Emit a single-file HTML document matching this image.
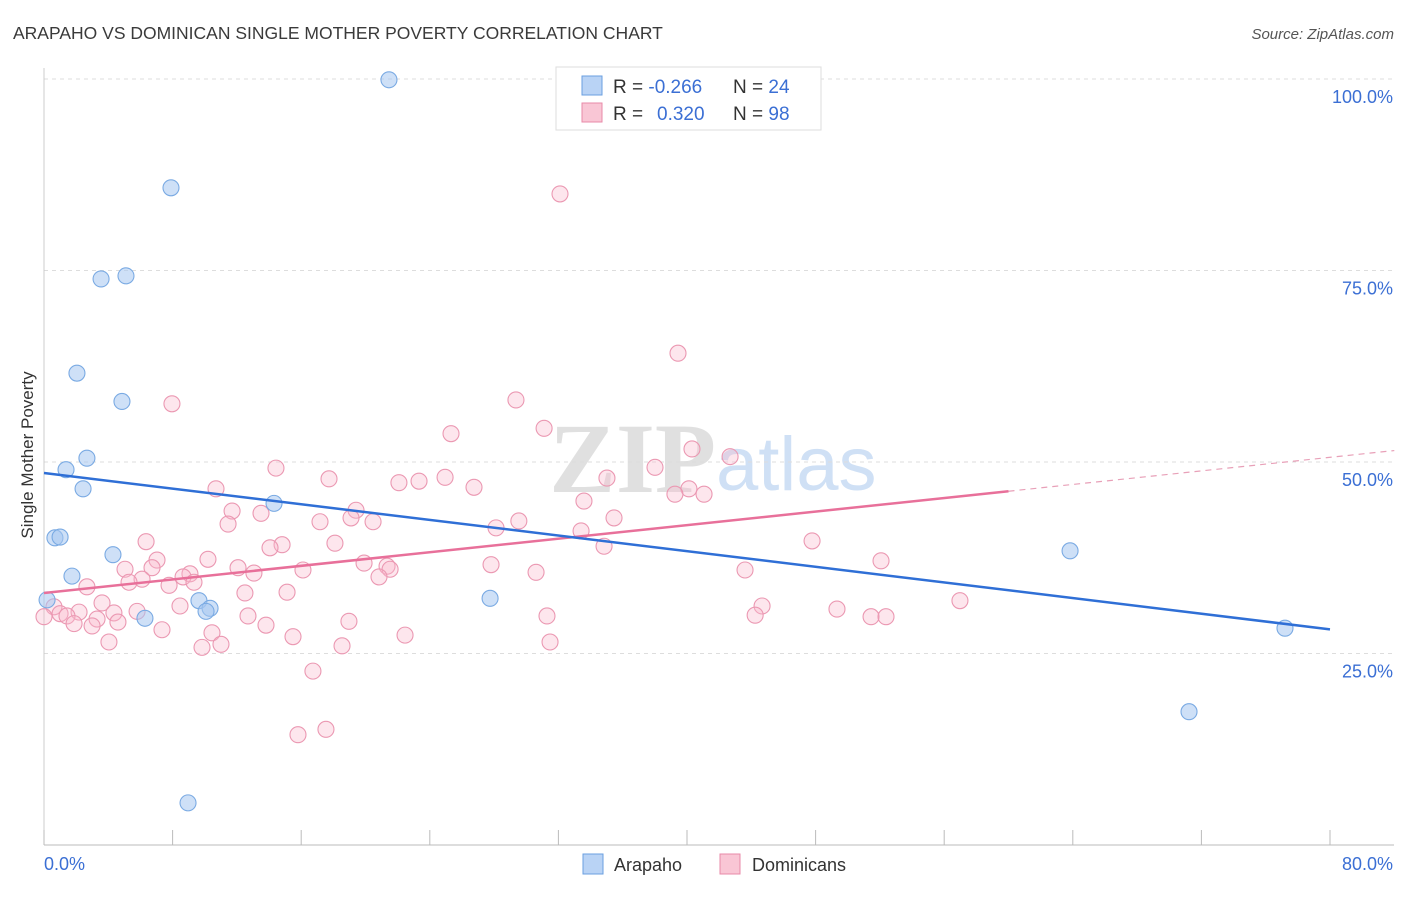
<!DOCTYPE html>
<html><head><meta charset="utf-8">
<style>
body{margin:0;background:#fff;font-family:"Liberation Sans",sans-serif;}
svg text{font-family:"Liberation Sans",sans-serif;}
</style></head>
<body>
<svg id="chart" width="1406" height="892" xmlns="http://www.w3.org/2000/svg">
<text x="13" y="39" font-size="17.5" fill="#3a3a3a">ARAPAHO VS DOMINICAN SINGLE MOTHER POVERTY CORRELATION CHART</text>
<text x="1394" y="39" font-size="15" fill="#555" text-anchor="end" font-style="italic">Source: ZipAtlas.com</text>
<text x="716" y="492" font-size="100" fill="#e0e0e0" text-anchor="end" font-family="Liberation Serif" font-weight="bold" style="font-family:'Liberation Serif',serif">ZIP</text>
<text x="716" y="490" font-size="76" fill="#cfe0f5">atlas</text>
<g id="grid"></g>
<g id="marks"></g>
<text transform="translate(33,455) rotate(-90)" font-size="17" fill="#333" text-anchor="middle">Single Mother Poverty</text>
<text x="44" y="870" font-size="18" fill="#3b6fd4">0.0%</text>
<text x="1393" y="870" font-size="18" fill="#3b6fd4" text-anchor="end">80.0%</text>
<g>
<rect x="556" y="67" width="265" height="63" fill="#fff" stroke="#ddd"/>
<rect x="582" y="76" width="20" height="19" fill="#b9d3f5" stroke="#6a9fe0"/>
<rect x="582" y="103" width="20" height="19" fill="#f9c6d5" stroke="#e88aa8"/>
<text x="613" y="93" font-size="19" fill="#333">R = <tspan fill="#3b6fd4">-0.266</tspan><tspan x="733">N = </tspan><tspan fill="#3b6fd4">24</tspan></text>
<text x="613" y="120" font-size="19" fill="#333">R = <tspan x="657" fill="#3b6fd4">0.320</tspan><tspan x="733">N = </tspan><tspan fill="#3b6fd4">98</tspan></text>
</g>
<g>
<rect x="583" y="854" width="20" height="20" fill="#b9d3f5" stroke="#6a9fe0"/>
<text x="614" y="871" font-size="18" fill="#333">Arapaho</text>
<rect x="720" y="854" width="20" height="20" fill="#f9c6d5" stroke="#e88aa8"/>
<text x="752" y="871" font-size="18" fill="#333">Dominicans</text>
</g>
</svg>
<script>
const blueX=[21.46,7.90,3.55,5.10,2.05,4.85,2.67,1.37,2.43,14.31,0.68,1.00,4.29,1.74,0.19,9.64,10.33,10.08,6.28,27.75,63.83,77.20,71.23,8.96];
const blueY=[99.9,85.8,73.9,74.3,61.6,57.9,50.5,49.0,46.5,44.6,40.1,40.2,37.9,35.1,32.0,31.9,30.9,30.5,29.6,32.2,38.4,28.3,17.4,5.5];
const pinkX=[32.10,39.44,7.96,29.36,25.32,31.11,40.31,42.68,38.01,14.43,17.73,24.95,23.33,22.08,35.02,26.75,10.70,40.12,39.25,41.06,33.59,19.41,11.70,13.50,19.10,35.46,29.54,17.17,20.47,11.45,28.12,33.41,18.10,6.35,47.78,14.81,14.06,34.84,10.20,7.03,52.07,19.91,27.81,21.34,21.53,12.07,16.11,43.61,5.04,6.72,30.61,13.06,9.08,8.65,20.84,6.10,5.29,9.33,7.78,2.67,12.50,15.12,56.98,3.61,44.67,8.46,49.33,5.79,0.62,2.18,1.00,1.43,12.69,31.29,51.45,52.38,44.24,4.35,3.30,4.60,18.97,1.87,2.99,13.81,7.34,10.45,22.46,15.49,4.04,11.01,31.48,18.54,9.83,16.73,17.54,15.80,0];
const pinkY=[85.0,64.2,57.6,58.1,53.7,54.4,51.7,50.7,49.3,49.2,47.8,48.0,47.5,47.3,47.9,46.7,46.5,46.5,45.8,45.8,44.9,43.7,43.6,43.3,42.7,42.7,42.3,42.2,42.2,41.9,41.4,41.0,39.4,39.6,39.7,39.2,38.8,39.0,37.3,37.2,37.1,36.8,36.6,36.4,36.0,36.2,35.9,35.9,36.0,36.2,35.6,35.5,35.4,35.0,35.0,34.7,34.3,34.3,33.9,33.7,32.9,33.0,31.9,31.6,31.2,31.2,30.8,30.5,31.1,30.4,30.2,29.9,29.9,29.9,29.8,29.8,30.0,30.3,29.5,29.1,29.2,28.9,28.6,28.7,28.1,27.7,27.4,27.2,26.5,26.2,26.5,26.0,25.8,22.7,15.1,14.4,29.8];
const yTicks=[25,50,75,100];
const yTickLabels=["25.0%","50.0%","75.0%","100.0%"];
const xTicks=[0,8,16,24,32,40,48,56,64,72,80];

const NS="http://www.w3.org/2000/svg";
const sx=v=>44+v/80*1286;
const sy=v=>845-v/100*766;
const grid=document.getElementById('grid'),marks=document.getElementById('marks');
function mk(tag,attrs,parent){const e=document.createElementNS(NS,tag);for(const k in attrs)e.setAttribute(k,attrs[k]);parent.appendChild(e);return e;}
yTicks.forEach((t,i)=>{
  const l=mk('line',{x1:44,x2:1394,y1:sy(t),y2:sy(t),stroke:'#ddd','stroke-dasharray':'4,4'},grid);
  
  
  const tx=mk('text',{x:1393,y:sy(t)+24,'font-size':18,fill:'#3b6fd4','text-anchor':'end'},grid);
  tx.textContent=yTickLabels[i];
  
  
});
const ax=mk('line',{x1:44,x2:44,y1:68,y2:845,stroke:'#ccc'},grid);


const bx=mk('line',{x1:44,x2:1394,y1:845,y2:845,stroke:'#bbb'},grid);


xTicks.forEach(t=>{
  const l=mk('line',{x1:sx(t),x2:sx(t),y1:830,y2:845,stroke:'#bbb'},grid);
  
  
});
function reg(X,Y){const n=X.length;let mx=0,my=0;for(let i=0;i<n;i++){mx+=X[i];my+=Y[i];}mx/=n;my/=n;let a=0,b=0;for(let i=0;i<n;i++){a+=(X[i]-mx)*(Y[i]-my);b+=(X[i]-mx)**2;}const s=a/b;return [my-s*mx,s];}
function dots(X,Y,fill,stroke,name){X.forEach((x,i)=>{
  const c=mk('circle',{cx:sx(x),cy:sy(Y[i]),r:8,fill:fill,stroke:stroke,'stroke-width':1.1},marks);
  
  
});}
dots(pinkX,pinkY,'rgba(248,182,202,0.35)','#eb98b2','dominicans-point');
dots(blueX,blueY,'rgba(165,198,240,0.55)','#7aaae3','arapaho-point');
const [pb,ps]=reg(pinkX,pinkY);
const pl=mk('line',{x1:sx(0),y1:sy(pb),x2:sx(60),y2:sy(pb+ps*60),stroke:'#e8709a','stroke-width':2.5},marks);


const pd=mk('line',{x1:sx(60),y1:sy(pb+ps*60),x2:sx(84),y2:sy(pb+ps*84),stroke:'#e8a0b8','stroke-width':1.2,'stroke-dasharray':'6,5'},marks);


const [bb,bs]=reg(blueX,blueY);
const bl=mk('line',{x1:sx(0),y1:sy(bb),x2:sx(80),y2:sy(bb+bs*80),stroke:'#2f6fd6','stroke-width':2.5},marks);


</script>
</body></html>
